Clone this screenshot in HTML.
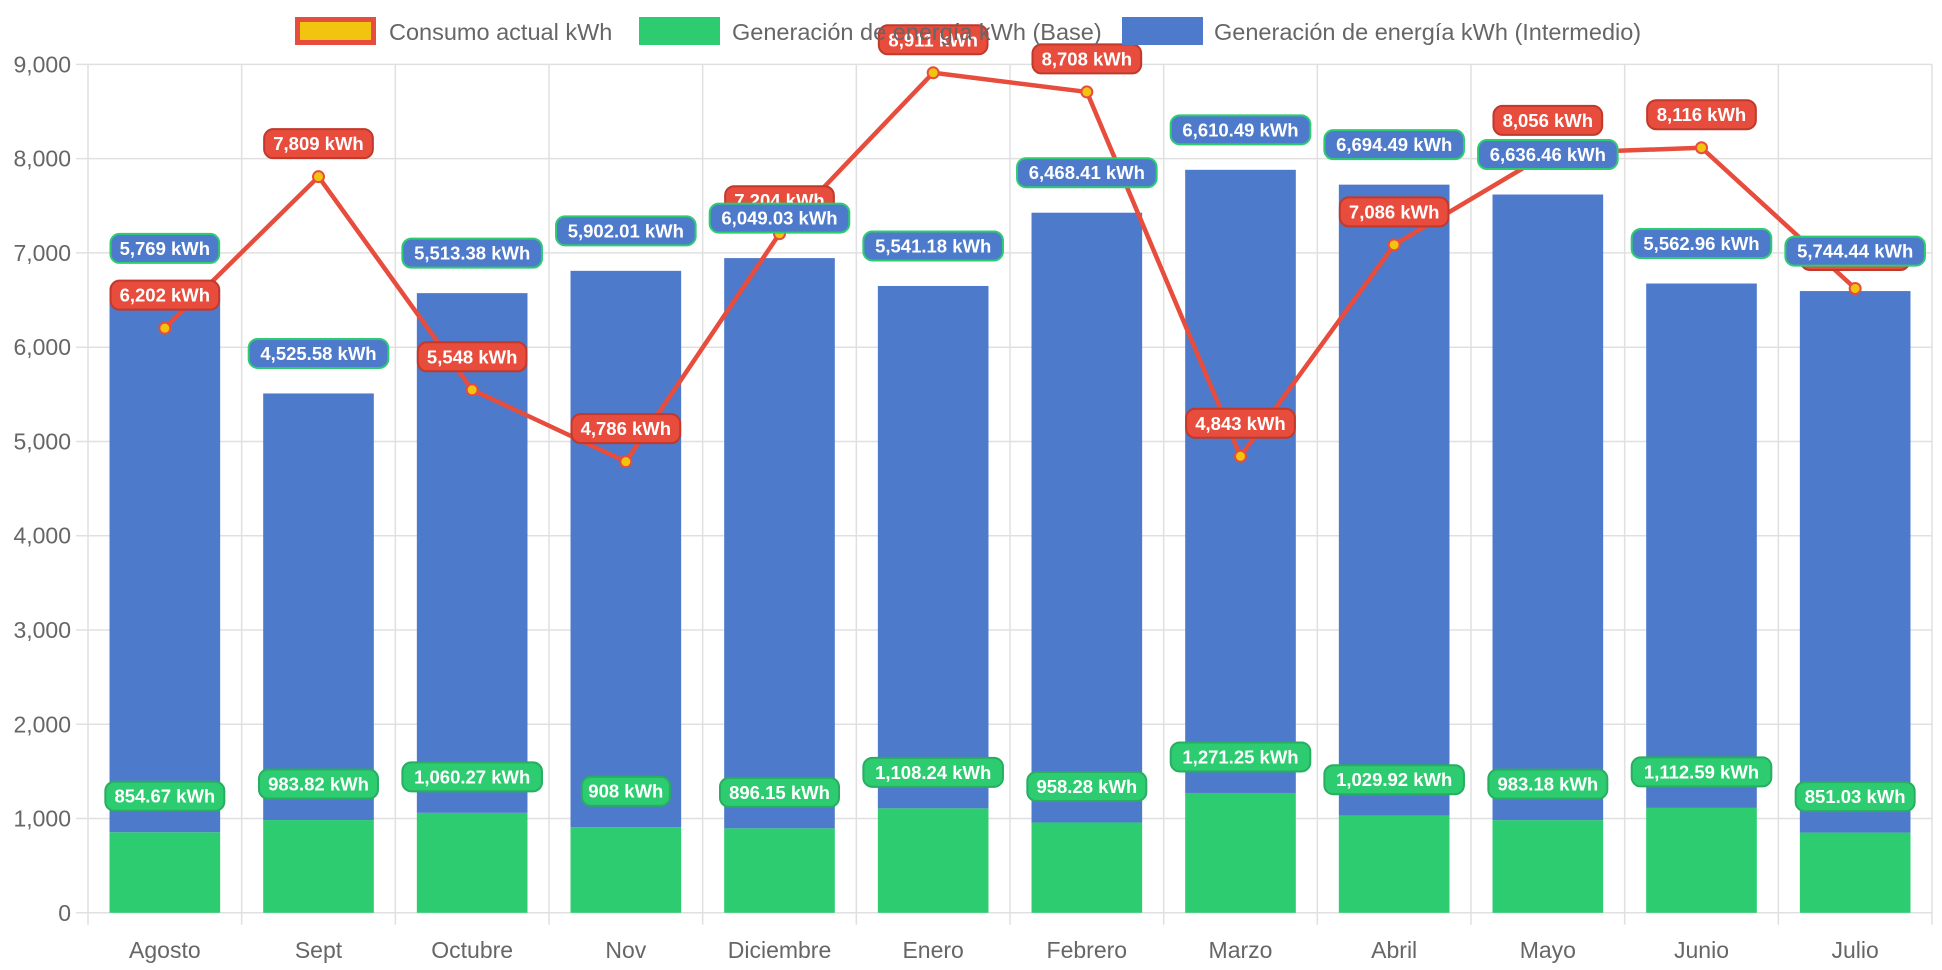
<!DOCTYPE html>
<html><head><meta charset="utf-8">
<style>
html,body{margin:0;padding:0;background:#fff;}
svg{display:block;font-family:"Liberation Sans",sans-serif;}
</style></head>
<body>
<svg id="chart" width="1942" height="970"></svg>
<script>
const categories=["Agosto","Sept","Octubre","Nov","Diciembre","Enero","Febrero","Marzo","Abril","Mayo","Junio","Julio"];
const consumo=[6202,7809,5548,4786,7204,8911,8708,4843,7086,8056,8116,6623];
const base=[854.67,983.82,1060.27,908,896.15,1108.24,958.28,1271.25,1029.92,983.18,1112.59,851.03];
const intermedio=[5769,4525.58,5513.38,5902.01,6049.03,5541.18,6468.41,6610.49,6694.49,6636.46,5562.96,5744.44];
const yTicks=[0,1000,2000,3000,4000,5000,6000,7000,8000,9000];

const NS="http://www.w3.org/2000/svg";
const svg=document.getElementById('chart');
const L=88,R=1932,T=64.4,B=912.8,YMAX=9000;
const cw=(R-L)/categories.length;
const y=v=>B-(v/YMAX)*(B-T);
const xc=i=>L+cw*(i+0.5);
function el(tag,attrs,parent){const e=document.createElementNS(NS,tag);for(const k in attrs)e.setAttribute(k,attrs[k]);(parent||svg).appendChild(e);return e;}
function fmt(v){return v.toLocaleString('en-US',{maximumFractionDigits:2})+" kWh";}

const grid=el('g',{});


yTicks.forEach(t=>{
  el('line',{x1:L-12,x2:R,y1:y(t),y2:y(t),stroke:'#e0e0e0','stroke-width':1.5},grid);
  const tx=el('text',{x:L-17,y:y(t)+8,'text-anchor':'end','font-size':23,fill:'#666'});
  tx.textContent=t.toLocaleString('en-US');
  
  
});
for(let i=0;i<=categories.length;i++){
  el('line',{x1:L+cw*i,x2:L+cw*i,y1:T,y2:B+12,stroke:'#e0e0e0','stroke-width':1.5},grid);
}
categories.forEach((c,i)=>{
  const tx=el('text',{x:xc(i),y:958,'text-anchor':'middle','font-size':23,fill:'#666'});
  tx.textContent=c;
  
  
});

const bw=cw*0.72;
categories.forEach((c,i)=>{
  const g=el('rect',{x:xc(i)-bw/2,y:y(base[i]),width:bw,height:B-y(base[i]),fill:'#2ecc71'});
  
  
  const top=base[i]+intermedio[i];
  const b=el('rect',{x:xc(i)-bw/2,y:y(top),width:bw,height:y(base[i])-y(top),fill:'#4e7acb'});
  
  
});

const pts=consumo.map((v,i)=>xc(i)+","+y(v)).join(" ");
const line=el('polyline',{points:pts,fill:'none',stroke:'#e74c3c','stroke-width':4.5,'stroke-linejoin':'round'});


consumo.forEach((v,i)=>{
  const p=el('circle',{cx:xc(i),cy:y(v),r:5.5,fill:'#f1c40f',stroke:'#e74c3c','stroke-width':2});
  
  
});

function label(cx,cy,text,bg,border){
  const g=el('g',{});
  
  
  const w=text.length*10.3+16;
  el('rect',{x:cx-w/2,y:cy-14.5,width:w,height:29,rx:9,fill:bg,stroke:border,'stroke-width':2},g);
  const t=el('text',{x:cx,y:cy+6.5,'text-anchor':'middle','font-size':18.5,'font-weight':'bold',fill:'#fff'},g);
  t.textContent=text;
}
consumo.forEach((v,i)=>label(xc(i),y(v)-33,fmt(v),'#e74c3c','#c0392b'));
base.forEach((v,i)=>label(xc(i),y(v)-36,fmt(v),'#2ecc71','#27ae60'));
intermedio.forEach((v,i)=>label(xc(i),y(v+base[i])-40,fmt(v),'#4e7acb','#2ecc71'));

const lg=el('g',{});


const items=[[295,389,'Consumo actual kWh','#f1c40f','#e74c3c'],[639,732,'Generación de energía kWh (Base)','#2ecc71','#2ecc71'],[1122,1214,'Generación de energía kWh (Intermedio)','#4e7acb','#4e7acb']];
items.forEach(it=>{
  const g=el('g',{},lg);
  
  
  el('rect',{x:it[0]+2.5,y:19.5,width:76,height:23,fill:it[3],stroke:it[4],'stroke-width':5},g);
  const t=el('text',{x:it[1],y:40,'font-size':23.5,fill:'#666'},g);
  t.textContent=it[2];
});
</script>
</body></html>
